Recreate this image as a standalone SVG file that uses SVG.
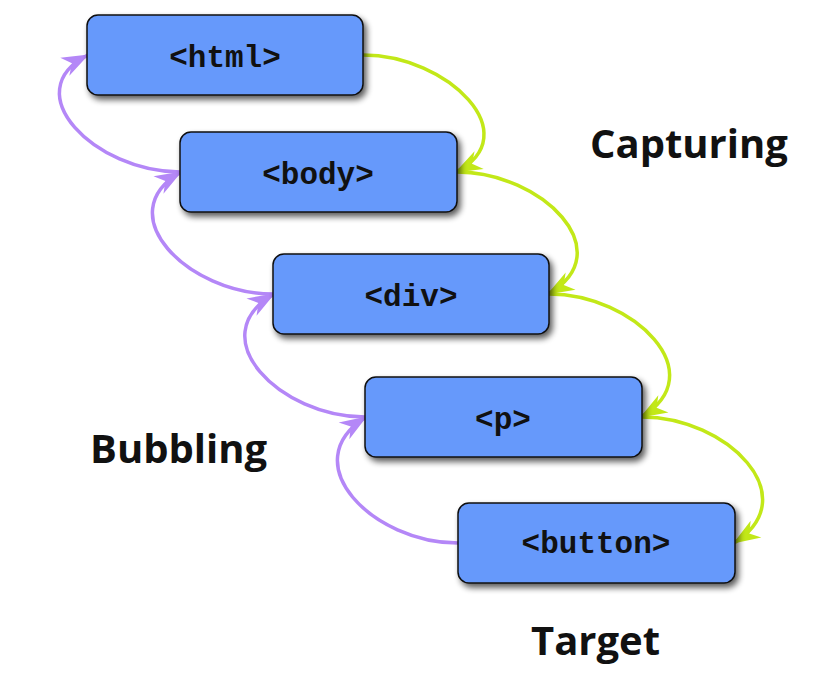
<svg xmlns="http://www.w3.org/2000/svg" width="815" height="680" viewBox="0 0 815 680">
<defs>
<filter id="sh" x="-10%" y="-20%" width="125%" height="150%">
<feGaussianBlur in="SourceAlpha" stdDeviation="3"/>
<feOffset dx="3" dy="4" result="b"/>
<feComponentTransfer><feFuncA type="linear" slope="0.65"/></feComponentTransfer>
<feMerge><feMergeNode/><feMergeNode in="SourceGraphic"/></feMerge>
</filter>
<marker id="ag" viewBox="-28 -12 30 24" markerWidth="30" markerHeight="24" refX="0" refY="0" orient="auto" markerUnits="userSpaceOnUse">
<path d="M1,0 L-26,-10 L-18,0 L-26,10 Z" fill="#c2e818"/>
</marker>
<marker id="ap" viewBox="-28 -12 30 24" markerWidth="30" markerHeight="24" refX="0" refY="0" orient="auto" markerUnits="userSpaceOnUse">
<path d="M1,0 L-26,-10 L-18,0 L-26,10 Z" fill="#b487f7"/>
</marker>
</defs>
<style>
.box{fill:#6699fb;stroke:#111;stroke-width:1.5;filter:url(#sh)}
.code{font-family:"Liberation Mono","DejaVu Sans Mono",monospace;font-weight:bold;font-size:31px;fill:#111;text-anchor:middle}
.lbl{font-family:"Open Sans","Noto Sans",sans-serif;font-weight:bold;font-size:40px;fill:#111}
.g{fill:none;stroke:#c2e818;stroke-width:3.5;marker-end:url(#ag)}
.p{fill:none;stroke:#b487f7;stroke-width:3.5;marker-end:url(#ap)}
</style>
<rect width="815" height="680" fill="#fff"/>
<g id="connectors">
<path class="g" d="M363,55 c85,0 165,80 93,117"/>
<path class="g" d="M457,172 c85,0 165,80 91,122"/>
<path class="g" d="M549,294 c85,0 165,80 92,123"/>
<path class="g" d="M642,417 c85,0 165,80 92,126"/>
<path class="p" d="M458,543 c-85,0 -165,-80 -92,-126"/>
<path class="p" d="M365,417 c-85,0 -165,-80 -91,-123"/>
<path class="p" d="M273,294 c-85,0 -165,-80 -92,-122"/>
<path class="p" d="M180,172 c-85,0 -165,-80 -92,-117"/>
</g>
<g id="html"><rect class="box" x="87" y="15" width="276" height="80" rx="11"/><text class="code" x="225" y="67">&lt;html&gt;</text></g>
<g id="body"><rect class="box" x="180" y="132" width="277" height="80" rx="11"/><text class="code" x="318" y="184">&lt;body&gt;</text></g>
<g id="div"><rect class="box" x="273" y="254" width="276" height="80" rx="11"/><text class="code" x="411" y="306">&lt;div&gt;</text></g>
<g id="p"><rect class="box" x="365" y="377" width="277" height="80" rx="11"/><text class="code" x="503" y="429">&lt;p&gt;</text></g>
<g id="button"><rect class="box" x="458" y="503" width="277" height="80" rx="11"/><text class="code" x="596" y="553">&lt;button&gt;</text></g>
<g id="labels">
<text class="lbl" x="590" y="158">Capturing</text>
<text class="lbl" x="90" y="463">Bubbling</text>
<text class="lbl" x="531" y="655">Target</text>
</g>
</svg>
